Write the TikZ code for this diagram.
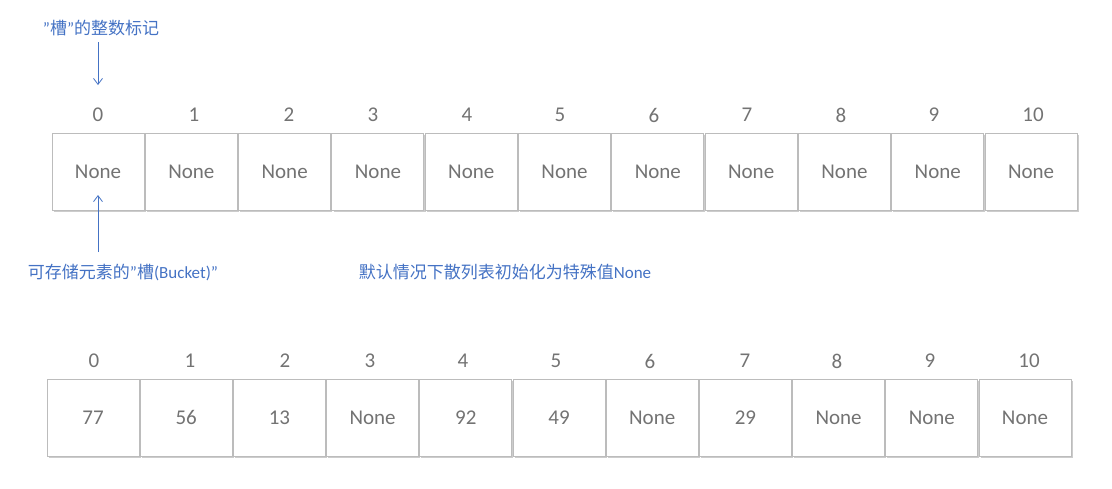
\documentclass[tikz,border=0pt]{standalone}
\usepackage{fontspec}
\setmainfont{Carlito}
\newfontfamily\cjk{Noto Sans CJK SC}
\usetikzlibrary{arrows.meta,shadows}
\definecolor{txtgray}{HTML}{737373}
\definecolor{cellline}{HTML}{BCBCBC}
\definecolor{noteblue}{HTML}{4472C4}
\tikzset{
  cell/.style={draw=cellline, line width=1pt, fill=white, minimum width=92pt, minimum height=77pt,
    inner sep=0pt, text=txtgray, font=\fontsize{21}{24}\selectfont,
    drop shadow={shadow xshift=1.6pt, shadow yshift=-1.6pt, opacity=0.5, fill=gray!80}},
  idx/.style={text=txtgray, font=\fontsize{21}{24}\selectfont, inner sep=0pt},
  note/.style={text=noteblue, font=\fontsize{17}{20}\selectfont, inner sep=0pt},
  arr/.style={draw=noteblue, line width=0.8pt, -{Straight Barb[length=6pt,width=9pt]}}
}
\begin{document}
\begin{tikzpicture}[x=1pt,y=-1pt]
\useasboundingbox (0,0) rectangle (1112,488);
% top row
\foreach \i/\v/\lx in {0/None/98,1/None/194,2/None/289,3/None/373,4/None/467,5/None/560,6/None/654,7/None/747,8/None/841,9/None/934,10/None/1033}{
  \node[cell] (t\i) at ({52+93.3*(\i+0.5)-0.6},171.5) {\v};
  \node[idx] (ti\i) at (\lx,115) {\i};
}
% bottom row
\foreach \i/\v/\lx in {0/77/94,1/56/190,2/13/285,3/None/370,4/92/463,5/49/556,6/None/650,7/29/745,8/None/837,9/None/930,10/None/1029}{
  \node[cell] (b\i) at ({47+93.2*(\i+0.5)-0.6},417.5) {\v};
  \node[idx] (bi\i) at (\lx,361) {\i};
}
% notes
\node[note] (n1) at (101,28) {”{\cjk 槽}”{\cjk 的整数标记}};
\node[note] (n2) at (123,272) {{\cjk 可存储元素的}”{\cjk 槽}(Bucket)”};
\node[note] (n3) at (505,272) {{\cjk 默认情况下散列表初始化为特殊值}None};
% arrows
\coordinate (a1s) at (98,42);
\coordinate (a1e) at (98,85);
\coordinate (a2s) at (98,252);
\coordinate (a2e) at (98,195);
\draw[arr] (a1s) -- (a1e);
\draw[arr] (a2s) -- (a2e);
\end{tikzpicture}
\end{document}
